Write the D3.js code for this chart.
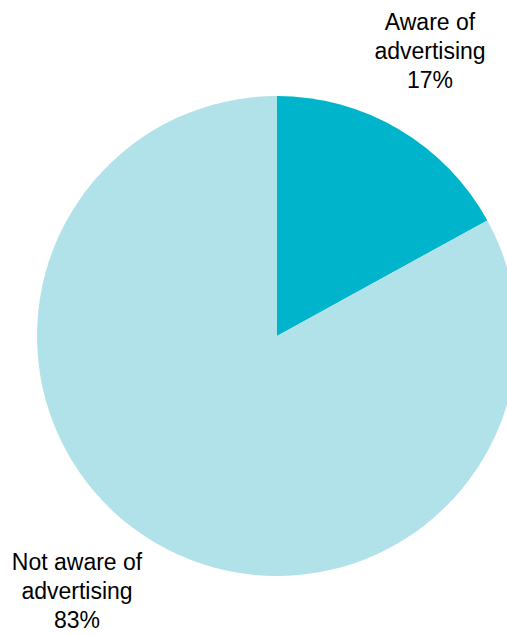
<!DOCTYPE html>
<html>
<head>
<meta charset="utf-8">
<script src="https://cdn.jsdelivr.net/npm/d3@7"></script>
<style>
  body { margin: 0; background: #fff; }
  svg { display: block; }
</style>
</head>
<body>
<div id="chart"></div>
<script>
var w = 507,
    h = 635;

var categories = ["Aware of advertising", "Not aware of advertising"];
var values = [17, 83];
var labelLines = [["Aware of", "advertising", "17%"], ["Not aware of", "advertising", "83%"]];

var color = d3.scaleOrdinal()
    .domain(categories)
    .range(["#00b5cb", "#b1e1e9"]);

var cx = 277, cy = 336, radius = 240;

var svg = d3.select("#chart").append("svg")
    .attr("width", w)
    .attr("height", h);

var pie = d3.pie().sort(null).value(function(d) { return d.value; });
var arc = d3.arc().innerRadius(0).outerRadius(radius);

var data = categories.map(function(c, i) {
    return { name: c, value: values[i], lines: labelLines[i] };
});

var g = svg.append("g").attr("transform", "translate(" + cx + "," + cy + ")");

g.selectAll("path")
    .data(pie(data))
    .enter().append("path")
    .attr("d", arc)
    .attr("fill", function(d) { return color(d.data.name); });

// label anchors (centre / baseline of first line)
var labelPos = [[430, 30], [77, 570]];
var lineH = 29;

data.forEach(function(d, i) {
    var t = svg.append("text")
        .attr("text-anchor", "middle")
        .style("font-family", "'Liberation Sans', Arial, sans-serif")
        .style("font-size", "23px")
        .style("fill", "#000");
    d.lines.forEach(function(line, j) {
        t.append("tspan")
            .attr("x", labelPos[i][0])
            .attr("y", labelPos[i][1] + j * lineH)
            .text(line);
    });
});
</script>
</body>
</html>
